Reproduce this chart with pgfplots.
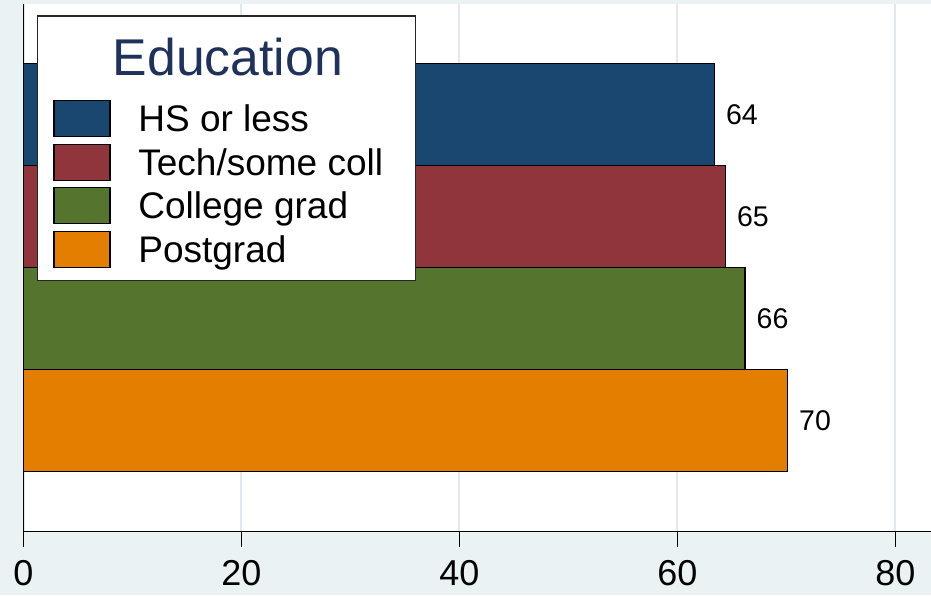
\documentclass[border=0pt]{standalone}
\usepackage{fontspec}
\setmainfont{Liberation Sans}
\usepackage{pgfplots}
\pgfplotsset{compat=1.18}
\usetikzlibrary{backgrounds,calc}
\definecolor{bgc}{RGB}{234,242,243}
\definecolor{gridc}{RGB}{224,234,238}
\definecolor{snavy}{RGB}{26,71,111}
\definecolor{smaroon}{RGB}{144,53,59}
\definecolor{sgreen}{RGB}{85,117,47}
\definecolor{sorange}{RGB}{227,126,0}
\definecolor{ttl}{RGB}{30,50,92}
\begin{document}
\begin{tikzpicture}
\begin{axis}[
  name=ax,
  scale only axis,
  width=907.5pt, height=527.7pt,
  xmin=0, xmax=83.26,
  ymin=-0.09, ymax=5.08,
  axis lines*=left,
  axis line style={line width=1.3pt, black},
  axis background/.style={fill=white},
  xtick={0,20,40,60,80},
  ytick=\empty,
  tick align=outside,
  major tick length=15pt,
  tick style={line width=1.3pt, black},
  xmajorgrids,
  grid style={line width=2pt, gridc},
  /pgf/number format/assume math mode=true,
  xticklabel style={font=\fontsize{36}{40}\selectfont, inner sep=0pt, anchor=north, yshift=-13pt},
  xbar, bar width=1, bar shift=0pt,
  nodes near coords,
  point meta=explicit symbolic,
  every node near coord/.append style={font=\fontsize{28.5}{30}\selectfont, inner sep=0pt, anchor=west, xshift=11pt, black},
  legend cell align=left,
  legend image code/.code={\draw[#1, draw=black, line width=1.2pt] (0pt,-14.65pt) rectangle (56pt,21.35pt);},
  legend style={at={(0.0328,0.818)}, anchor=north west, draw=none, fill=none, inner sep=0pt,
    font=\fontsize{37}{40}\selectfont, nodes={inner sep=0pt, text height=26pt, text depth=7pt},
    row sep=5pt, column sep=27.7pt},
]
\addplot[fill=snavy, draw=black, line width=1.2pt] coordinates {(63.4,4) [64]};
\addlegendentry{HS or less}
\addplot[fill=smaroon, draw=black, line width=1.2pt] coordinates {(64.4,3) [65]};
\addlegendentry{Tech/some coll}
\addplot[fill=sgreen, draw=black, line width=1.2pt] coordinates {(66.2,2) [66]};
\addlegendentry{College grad}
\addplot[fill=sorange, draw=black, line width=1.2pt] coordinates {(70.1,1) [70]};
\addlegendentry{Postgrad}
\draw[line width=1.3pt, draw=black!85, fill=white] (rel axis cs:0.0152,0.9773) rectangle (rel axis cs:0.4322,0.4756);
\node[anchor=base, font=\fontsize{51.7}{55}\selectfont, text=ttl, inner sep=0pt] at (rel axis cs:0.2253,0.8636) {Education};
\end{axis}
\begin{pgfonlayer}{background}
\fill[bgc] ($(ax.south west)+(-23.5pt,-63.3pt)$) rectangle ($(ax.north east)+(0pt,4pt)$);
\end{pgfonlayer}
\pgfresetboundingbox
\useasboundingbox ($(ax.south west)+(-23.5pt,-63.3pt)$) rectangle ($(ax.north east)+(0pt,4pt)$);
\end{tikzpicture}
\end{document}
